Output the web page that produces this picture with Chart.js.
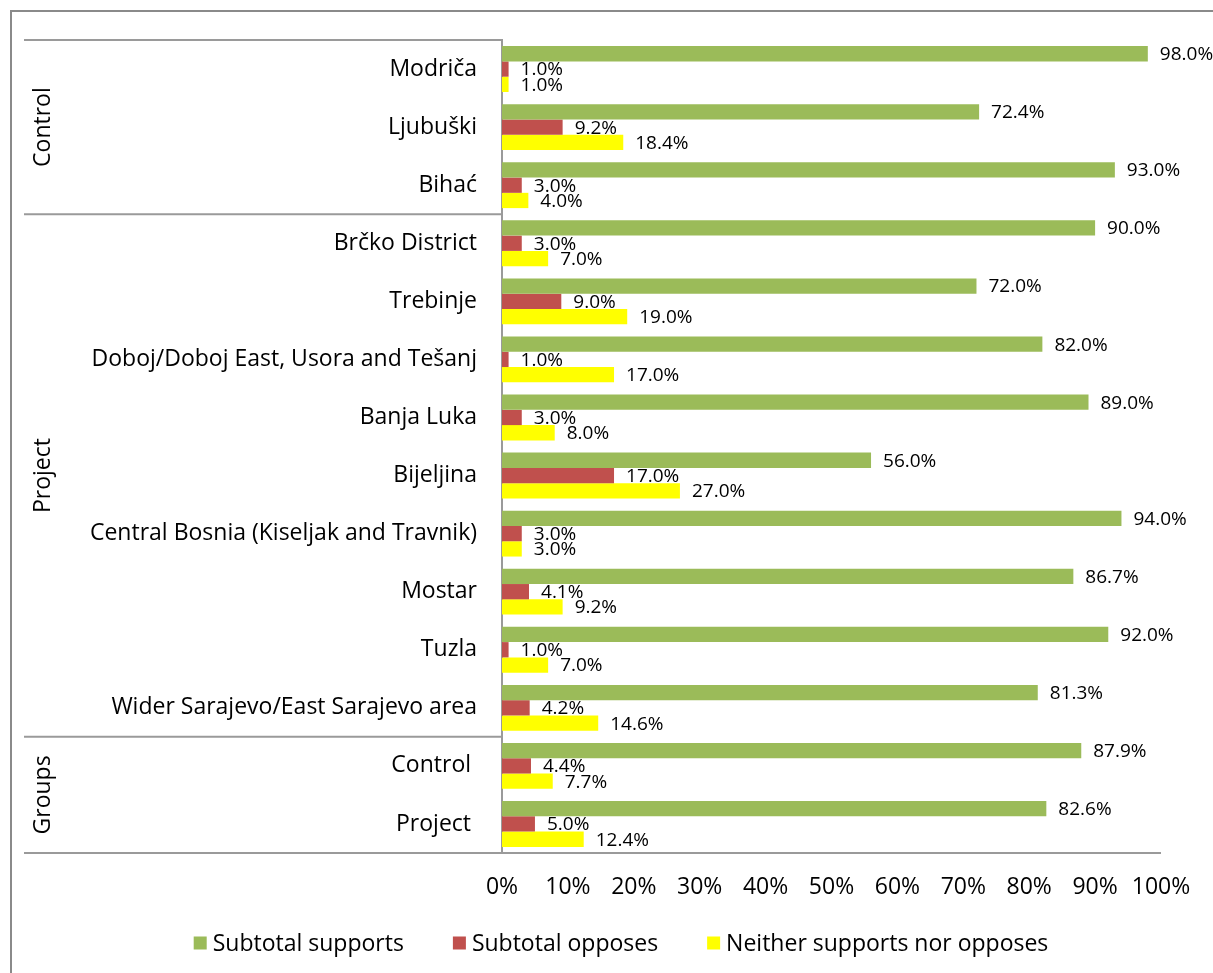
<!DOCTYPE html>
<html>
<head>
<meta charset="utf-8">
<script src="https://cdn.jsdelivr.net/npm/chart.js@4"></script>
<style>
  html, body { margin: 0; padding: 0; background: #fff; }
  canvas { display: block; }
</style>
</head>
<body>
<canvas id="chart" width="1213" height="973"></canvas>
<script>
// Categories, top to bottom
const categories = [
    'Modriča', 'Ljubuški', 'Bihać',
    'Brčko District', 'Trebinje', 'Doboj/Doboj East, Usora and Tešanj', 'Banja Luka',
    'Bijeljina', 'Central Bosnia (Kiseljak and Travnik)', 'Mostar', 'Tuzla',
    'Wider Sarajevo/East Sarajevo area',
    'Control ', 'Project '
];

// Group labels on the left with how many categories each spans
const groupNames = ['Control', 'Project', 'Groups'];
const groupSizes = [3, 9, 2];

const seriesNames = ['Subtotal supports', 'Subtotal opposes', 'Neither supports nor opposes'];
const supports = [98.0, 72.4, 93.0, 90.0, 72.0, 82.0, 89.0, 56.0, 94.0, 86.7, 92.0, 81.3, 87.9, 82.6];
const opposes = [1.0, 9.2, 3.0, 3.0, 9.0, 1.0, 3.0, 17.0, 3.0, 4.1, 1.0, 4.2, 4.4, 5.0];
const neither = [1.0, 18.4, 4.0, 7.0, 19.0, 17.0, 8.0, 27.0, 3.0, 9.2, 7.0, 14.6, 7.7, 12.4];

const xTicks = [0, 10, 20, 30, 40, 50, 60, 70, 80, 90, 100];

const FONT = '"Open Sans", "DejaVu Sans", sans-serif';
const LINE = '#9a9a9a';

// value labels right of each bar
const barLabels = {
    id: 'barLabels',
    afterDatasetsDraw(chart) {
        const ctx = chart.ctx;
        ctx.save();
        ctx.font = '19px ' + FONT;
        ctx.fillStyle = '#000';
        ctx.textAlign = 'left';
        ctx.textBaseline = 'middle';
        chart.data.datasets.forEach((ds, i) => {
            chart.getDatasetMeta(i).data.forEach((bar, j) => {
                ctx.fillText(ds.data[j].toFixed(1) + '%', bar.x + 12, bar.y + 1);
            });
        });
        ctx.restore();
    }
};

// frame, group separators, group titles and legend
const decorations = {
    id: 'decorations',
    afterDraw(chart) {
        const ctx = chart.ctx;
        const area = chart.chartArea;
        const y = chart.scales.y;
        ctx.save();

        // outer frame
        ctx.strokeStyle = '#8a8a8a';
        ctx.lineWidth = 2;
        ctx.strokeRect(11, 11, 1400, 1200);

        // separators between groups
        ctx.strokeStyle = LINE;
        ctx.lineWidth = 2;
        let idx = 0;
        const bounds = [area.top];
        groupSizes.forEach(n => {
            idx += n;
            if (idx < categories.length) {
                bounds.push((y.getPixelForValue(idx - 1) + y.getPixelForValue(idx)) / 2);
            }
        });
        bounds.push(area.bottom);
        bounds.forEach((b, k) => {
            ctx.beginPath();
            ctx.moveTo(24, b);
            ctx.lineTo(k === bounds.length - 1 ? area.right : area.left, b);
            ctx.stroke();
        });

        // rotated group titles
        ctx.fillStyle = '#000';
        ctx.font = '23px ' + FONT;
        ctx.textAlign = 'center';
        ctx.textBaseline = 'middle';
        groupNames.forEach((name, k) => {
            const mid = (bounds[k] + bounds[k + 1]) / 2;
            ctx.save();
            ctx.translate(43, mid);
            ctx.rotate(-Math.PI / 2);
            ctx.fillText(name, 0, 0);
            ctx.restore();
        });

        // legend
        const box = 13, gapText = 6, gapItem = 49;
        ctx.font = '23px ' + FONT;
        const items = chart.data.datasets.map(ds => ({
            label: ds.label, color: ds.backgroundColor, w: ctx.measureText(ds.label).width
        }));
        let total = 0;
        items.forEach((it, k) => { total += box + gapText + it.w + (k ? gapItem : 0); });
        let lx = 621 - total / 2;
        const ly = 943;
        ctx.textAlign = 'left';
        items.forEach(it => {
            ctx.fillStyle = it.color;
            ctx.fillRect(lx, ly - box / 2, box, box);
            ctx.fillStyle = '#000';
            ctx.fillText(it.label, lx + box + gapText, ly + 1);
            lx += box + gapText + it.w + gapItem;
        });

        ctx.restore();
    }
};

const colors = ['#9BBB59', '#C0504D', '#FFFF00'];

new Chart(document.getElementById('chart'), {
    type: 'bar',
    data: {
        labels: categories,
        datasets: [supports, opposes, neither].map((d, i) => ({
            label: seriesNames[i],
            data: d,
            backgroundColor: colors[i],
            borderWidth: 0,
            categoryPercentage: 0.79,
            barPercentage: 1.0
        }))
    },
    options: {
        indexAxis: 'y',
        responsive: false,
        animation: false,
        devicePixelRatio: 1,
        layout: { padding: { left: 24, top: 40, right: 52, bottom: 60 } },
        plugins: {
            legend: { display: false },
            tooltip: { enabled: false }
        },
        scales: {
            x: {
                min: 0,
                max: 100,
                afterBuildTicks(scale) { scale.ticks = xTicks.map(v => ({ value: v })); },
                afterFit(scale) { scale.height = 60; },
                grid: { display: false, drawTicks: false },
                border: { display: false },
                ticks: {
                    padding: 21,
                    color: '#000',
                    font: { family: FONT, size: 23 },
                    callback: v => v + '%'
                }
            },
            y: {
                afterFit(scale) { scale.width = 502 - 24; },
                grid: { display: false, drawTicks: false },
                border: { display: true, color: LINE, width: 2 },
                ticks: {
                    padding: 25,
                    color: '#000',
                    font: { family: FONT, size: 23 }
                }
            }
        }
    },
    plugins: [barLabels, decorations]
});
</script>
</body>
</html>
